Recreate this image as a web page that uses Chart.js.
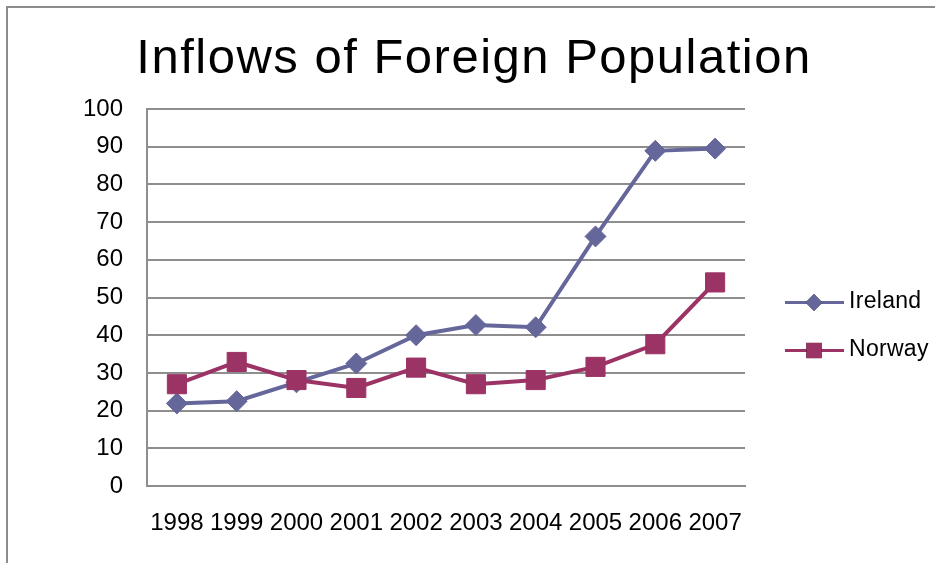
<!DOCTYPE html>
<html>
<head>
<meta charset="utf-8">
<title>Inflows of Foreign Population</title>
<script src="https://cdn.jsdelivr.net/npm/chart.js@4.4.1/dist/chart.umd.min.js"></script>
<style>
  html, body { margin: 0; padding: 0; background: #fff; }
  .wrap { position: relative; width: 935px; height: 563px; overflow: hidden; }
  /* chart frame: only the left and top edges fall inside the view */
  .frame {
    position: absolute; left: 6px; top: 6px; right: -20px; bottom: -20px;
    border-left: 2px solid #8c8c8c; border-top: 2px solid #8c8c8c;
  }
  canvas { position: absolute; left: 0; top: 0; }
</style>
</head>
<body>
<div class="wrap">
  <div class="frame"></div>
  <canvas id="inflows" width="935" height="563"></canvas>
</div>
<script>
const TITLE = 'Inflows of Foreign Population';
const years = ['1998', '1999', '2000', '2001', '2002', '2003', '2004', '2005', '2006', '2007'];
const ireland = [21.9, 22.5, 27.5, 32.5, 40.0, 42.7, 42.1, 66.2, 88.9, 89.5];
const norway = [27.0, 32.9, 28.1, 26.0, 31.4, 27.0, 28.1, 31.6, 37.6, 54.0];
const yTicks = [0, 10, 20, 30, 40, 50, 60, 70, 80, 90, 100];

const FONT = '"Liberation Sans", Arial, sans-serif';
const GRID = '#8e8e8e';

/* Title and legend are drawn by hand so they can use letter spacing. */
const headerAndLegend = {
  id: 'headerAndLegend',
  afterDraw(chart) {
    const { ctx, chartArea } = chart;
    ctx.save();
    ctx.fillStyle = '#000';
    ctx.textBaseline = 'alphabetic';
    ctx.textAlign = 'center';
    ctx.font = '49px ' + FONT;
    ctx.letterSpacing = '1.5px';
    ctx.fillText(TITLE, 474, 73);

    // legend: line, marker, label for each series
    ctx.font = '23px ' + FONT;
    ctx.letterSpacing = '0.3px';
    ctx.textAlign = 'left';
    ctx.textBaseline = 'middle';
    const x0 = chartArea.right + 40;
    const mid = (chartArea.top + chartArea.bottom) / 2;
    chart.data.datasets.forEach((ds, i) => {
      const y = mid + 5 + i * 48;
      ctx.strokeStyle = ds.borderColor;
      ctx.lineWidth = 3;
      ctx.beginPath();
      ctx.moveTo(x0, y);
      ctx.lineTo(x0 + 59, y);
      ctx.stroke();
      Chart.helpers.drawPoint(ctx, {
        pointStyle: ds.pointStyle,
        radius: ds.pointRadius * 0.8,
        borderWidth: 0
      }, x0 + 29, y);
      ctx.fillStyle = ds.pointBackgroundColor;
      ctx.fill();
      ctx.fillStyle = '#000';
      ctx.fillText(ds.label, x0 + 64, y - 1);
    });
    ctx.restore();
  }
};

new Chart(document.getElementById('inflows'), {
  type: 'line',
  data: {
    labels: years,
    datasets: [
      {
        label: 'Ireland',
        data: ireland,
        borderColor: '#65679b',
        backgroundColor: '#65679b',
        pointBackgroundColor: '#65679b',
        pointBorderColor: '#65679b',
        borderWidth: 4,
        pointStyle: 'rectRot',
        pointRadius: 10.5,
        pointBorderWidth: 1,
        tension: 0,
        order: 1
      },
      {
        label: 'Norway',
        data: norway,
        borderColor: '#9c3365',
        backgroundColor: '#9c3365',
        pointBackgroundColor: '#9c3365',
        pointBorderColor: '#9c3365',
        borderWidth: 4,
        pointStyle: 'rect',
        pointRadius: 13.5,
        pointBorderWidth: 1,
        tension: 0,
        order: 0
      }
    ]
  },
  options: {
    responsive: false,
    animation: false,
    devicePixelRatio: 1,
    layout: { padding: { top: 109, right: 190, bottom: 0, left: 0 } },
    plugins: {
      legend: { display: false },
      title: { display: false },
      tooltip: { enabled: false }
    },
    scales: {
      x: {
        offset: true,
        grid: { display: false, drawTicks: false },
        border: { color: GRID, width: 2 },
        ticks: { color: '#000', font: { family: FONT, size: 24 }, padding: 23, maxRotation: 0, autoSkip: false },
        afterFit: (s) => { s.height = 77; }
      },
      y: {
        min: 0,
        max: 100,
        afterBuildTicks: (s) => { s.ticks = yTicks.map(v => ({ value: v })); },
        grid: { color: GRID, lineWidth: 2, drawTicks: false },
        border: { color: GRID, width: 2 },
        ticks: { color: '#000', font: { family: FONT, size: 24 }, padding: 24 },
        afterFit: (s) => { s.width = 147; }
      }
    }
  },
  plugins: [headerAndLegend]
});
</script>
</body>
</html>
